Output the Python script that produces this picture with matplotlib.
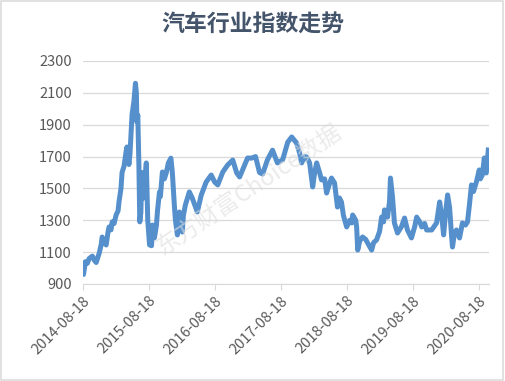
import matplotlib
matplotlib.use("Agg")
import matplotlib.pyplot as plt
import matplotlib.dates as mdates
import matplotlib.transforms as mtransforms
import pandas as pd
from matplotlib.patches import Rectangle

plt.rcParams['font.family'] = ['Noto Sans CJK SC', 'DejaVu Sans']

TITLE = "汽车行业指数走势"
WATERMARK = "东方财富Choice数据"

# index values (dates approximate)
dates = [
    "2014-08-18", "2014-08-22", "2014-09-01", "2014-09-12", "2014-09-22", "2014-10-10",
    "2014-10-20", "2014-10-31", "2014-11-17", "2014-11-28", "2014-12-03", "2014-12-14",
    "2014-12-25", "2015-01-05", "2015-01-10", "2015-01-21", "2015-01-27", "2015-02-07",
    "2015-02-18", "2015-03-01", "2015-03-06", "2015-03-17", "2015-03-23", "2015-04-03",
    "2015-04-14", "2015-04-19", "2015-04-30", "2015-05-06", "2015-05-17", "2015-05-28",
    "2015-06-05", "2015-06-10", "2015-06-13", "2015-06-18", "2015-06-24", "2015-06-29",
    "2015-07-05", "2015-07-10", "2015-07-16", "2015-07-21", "2015-07-27", "2015-08-04",
    "2015-08-12", "2015-08-22", "2015-08-27", "2015-09-02", "2015-09-07", "2015-09-18",
    "2015-09-29", "2015-10-05", "2015-10-16", "2015-10-21", "2015-11-01", "2015-11-12",
    "2015-11-23", "2015-12-04", "2015-12-18", "2015-12-26", "2016-01-06", "2016-01-12",
    "2016-01-23", "2016-02-03", "2016-02-19", "2016-02-25", "2016-03-07", "2016-03-29",
    "2016-04-14", "2016-05-12", "2016-06-03", "2016-06-30", "2016-07-28", "2016-08-16",
    "2016-09-02", "2016-09-30", "2016-10-27", "2016-11-24", "2016-12-16", "2017-01-01",
    "2017-01-29", "2017-02-14", "2017-03-08", "2017-03-30", "2017-04-21", "2017-05-08",
    "2017-06-04", "2017-07-02", "2017-07-29", "2017-08-27", "2017-09-24", "2017-10-16",
    "2017-11-12", "2017-11-29", "2017-12-10", "2017-12-27", "2018-01-07", "2018-01-23",
    "2018-02-09", "2018-02-20", "2018-03-03", "2018-03-19", "2018-03-30", "2018-04-16",
    "2018-04-27", "2018-05-13", "2018-05-24", "2018-06-10", "2018-06-26", "2018-07-07",
    "2018-07-18", "2018-07-29", "2018-08-16", "2018-09-02", "2018-09-13", "2018-09-18",
    "2018-10-05", "2018-10-10", "2018-10-16", "2018-10-27", "2018-11-12", "2018-11-29",
    "2018-12-10", "2019-01-01", "2019-01-12", "2019-01-28", "2019-02-14", "2019-02-25",
    "2019-03-08", "2019-03-13", "2019-03-30", "2019-04-10", "2019-04-15", "2019-04-26",
    "2019-05-07", "2019-05-24", "2019-06-15", "2019-07-02", "2019-07-18", "2019-08-09",
    "2019-08-27", "2019-09-07", "2019-09-24", "2019-10-05", "2019-10-21", "2019-11-01",
    "2019-11-29", "2019-12-26", "2020-01-12", "2020-01-23", "2020-02-03", "2020-02-14",
    "2020-02-25", "2020-03-07", "2020-03-18", "2020-03-23", "2020-04-03", "2020-04-14",
    "2020-05-01", "2020-05-17", "2020-06-03", "2020-06-14", "2020-06-25", "2020-07-06",
    "2020-07-17", "2020-08-02", "2020-08-18", "2020-08-24", "2020-09-04", "2020-09-15",
    "2020-09-20", "2020-09-26", "2020-10-07",
]
values = [
    990, 960, 1040, 1030, 1060, 1075,
    1050, 1035, 1095, 1150, 1195, 1160,
    1145, 1230, 1258, 1240, 1290, 1280,
    1333, 1360, 1415, 1500, 1600, 1640,
    1730, 1760, 1650, 1720, 1960, 2050,
    2160, 2100, 1917, 1960, 1650, 1290,
    1350, 1600, 1520, 1440, 1550, 1660,
    1300, 1145, 1220, 1140, 1270, 1190,
    1270, 1360, 1478, 1450, 1603, 1560,
    1600, 1660, 1690, 1600, 1396, 1300,
    1208, 1352, 1226, 1330, 1396, 1478,
    1440, 1352, 1459, 1540, 1584, 1540,
    1522, 1603, 1647, 1678, 1597, 1572,
    1647, 1691, 1690, 1700, 1600, 1590,
    1680, 1740, 1660, 1680, 1790, 1823,
    1785, 1720, 1660, 1700, 1697, 1660,
    1509, 1600, 1660, 1600, 1553, 1560,
    1471, 1530, 1565, 1534, 1383, 1440,
    1415, 1330, 1258, 1300, 1283, 1333,
    1300, 1258, 1113, 1170, 1195, 1180,
    1157, 1113, 1160, 1176, 1230, 1320,
    1290, 1365, 1320, 1420, 1565, 1450,
    1283, 1220, 1260, 1314, 1239, 1189,
    1260, 1320, 1290, 1258, 1280, 1239,
    1239, 1283, 1415, 1330, 1208, 1350,
    1459, 1380, 1200, 1132, 1220, 1239,
    1189, 1283, 1270, 1290, 1400, 1522,
    1480, 1540, 1616, 1560, 1584, 1691,
    1600, 1597, 1741,
]
tick_dates = ["2014-08-18", "2015-08-18", "2016-08-18", "2017-08-18",
              "2018-08-18", "2019-08-18", "2020-08-18"]
y_ticks = [900, 1100, 1300, 1500, 1700, 1900, 2100, 2300]

x = pd.to_datetime(dates)
xt = pd.to_datetime(tick_dates)

fig = plt.figure(figsize=(5.05, 3.81), dpi=100)
ax = fig.add_axes([0.164, 0.2546, 0.804, 0.5854])

ax.plot(x, values, color='#5590cc', lw=3.6, solid_joinstyle='round', zorder=2)

ax.set_ylim(900, 2300)
ax.set_yticks(y_ticks)
ax.set_xlim(pd.Timestamp("2014-08-18"), pd.Timestamp("2020-10-10"))
ax.set_xticks(xt)
ax.set_xticklabels(tick_dates, rotation=45, ha='right', rotation_mode='anchor')
ax.xaxis.set_major_formatter(mdates.DateFormatter('%Y-%m-%d'))
# nudge rotated date labels a bit right/down like the original
shift = mtransforms.ScaledTranslation(5 / 72, -4 / 72, fig.dpi_scale_trans)
for lbl in ax.get_xticklabels():
    lbl.set_transform(lbl.get_transform() + shift)

ax.grid(axis='y', color='#d9d9d9', lw=0.9, zorder=0)
ax.set_axisbelow(True)
for s in ['left', 'right', 'top']:
    ax.spines[s].set_visible(False)
ax.spines['bottom'].set_color('#d9d9d9')
ax.tick_params(axis='y', length=0, pad=8, labelsize=10.5, labelcolor='#595959')
ax.tick_params(axis='x', length=4, color='#d9d9d9', pad=3, labelsize=10.5,
               labelcolor='#595959')

fig.text(0.5, 0.935, TITLE, ha='center', va='center', fontsize=16.5,
         fontweight='bold', color='#44546a')

ax.text(0.41, 0.42, WATERMARK, transform=ax.transAxes, rotation=33.5,
        ha='center', va='center', fontsize=17, color='#dedede', alpha=0.6,
        zorder=3)

fig.patches.append(Rectangle((0.002, 0.003), 0.995, 0.994, transform=fig.transFigure,
                             fill=False, edgecolor='#dcdcdc', lw=1.2))

fig.savefig("out.png", dpi=100)
